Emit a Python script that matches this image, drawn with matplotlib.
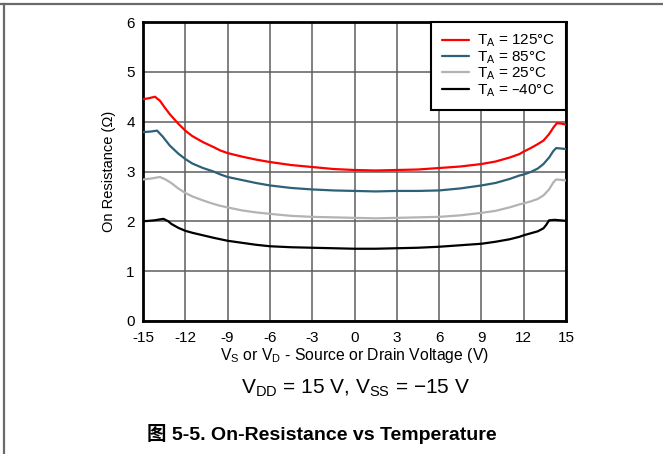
import matplotlib.pyplot as plt
from matplotlib.lines import Line2D

plt.rcParams['font.family'] = ['Liberation Sans', 'Noto Sans CJK SC', 'DejaVu Sans']
plt.rcParams['mathtext.default'] = 'regular'
plt.rcParams['axes.unicode_minus'] = False

# Source/drain voltage (V) and on-resistance (ohm)
v_125 = [-15, -14.6, -14.15, -13.8, -13.5, -13.1, -12.5, -12, -11.5, -10.75, -10, -9.5, -9, -8, -7, -6, -4.5, -3, -1.5,
         0, 1.5, 3, 4.5, 6, 7.5, 9, 10, 11, 11.7, 12, 12.5, 13, 13.4, 13.8, 14.1, 14.35, 14.7, 15]
r_125 = [4.45, 4.47, 4.50, 4.42, 4.30, 4.15, 3.96, 3.82, 3.71, 3.59, 3.49, 3.42, 3.37, 3.30, 3.24, 3.19, 3.13, 3.09, 3.05,
         3.03, 3.02, 3.03, 3.04, 3.07, 3.10, 3.15, 3.20, 3.28, 3.35, 3.40, 3.47, 3.55, 3.62, 3.75, 3.88, 3.97, 3.96, 3.94]

v_85 = [-15, -14.5, -14.0, -13.6, -13.1, -12.5, -12, -11.5, -10.75, -10, -9.5, -9, -8, -7, -6, -4.5, -3, -1.5,
        0, 1.5, 3, 4.5, 6, 7.5, 9, 10, 11, 11.7, 12, 12.5, 13, 13.4, 13.8, 14.1, 14.3, 14.7, 15]
r_85 = [3.79, 3.80, 3.82, 3.70, 3.52, 3.36, 3.25, 3.16, 3.07, 3.00, 2.94, 2.89, 2.83, 2.77, 2.72, 2.67, 2.64, 2.62,
        2.61, 2.60, 2.61, 2.61, 2.62, 2.66, 2.72, 2.77, 2.85, 2.92, 2.94, 2.99, 3.06, 3.15, 3.28, 3.41, 3.47, 3.46, 3.45]

v_25 = [-15, -14.4, -13.8, -13.4, -13.0, -12.5, -12, -11.5, -10.75, -10, -9.5, -9, -8, -7, -6, -4.5, -3, -1.5,
        0, 1.5, 3, 4.5, 6, 7.5, 9, 10, 11, 11.7, 12, 12.5, 13, 13.4, 13.8, 14.1, 14.3, 14.7, 15]
r_25 = [2.84, 2.86, 2.89, 2.84, 2.77, 2.66, 2.57, 2.50, 2.42, 2.35, 2.31, 2.28, 2.22, 2.18, 2.15, 2.11, 2.09, 2.08,
        2.07, 2.06, 2.07, 2.08, 2.09, 2.12, 2.17, 2.21, 2.28, 2.34, 2.36, 2.40, 2.45, 2.52, 2.64, 2.78, 2.84, 2.83, 2.82]

v_m40 = [-15, -14.2, -13.55, -13.2, -13.0, -12.5, -12, -11.5, -10.75, -10, -9, -8, -7, -6, -4.5, -3, -1.5,
         0, 1.5, 3, 4.5, 6, 7.5, 9, 10, 11, 11.7, 12, 12.5, 13, 13.4, 13.6, 13.8, 14.2, 15]
r_m40 = [2.00, 2.02, 2.05, 2.00, 1.95, 1.87, 1.81, 1.77, 1.72, 1.67, 1.61, 1.57, 1.53, 1.50, 1.48, 1.47, 1.46,
         1.45, 1.45, 1.46, 1.47, 1.49, 1.52, 1.55, 1.59, 1.64, 1.69, 1.72, 1.76, 1.80, 1.86, 1.93, 2.02, 2.03, 2.01]

series = [
    (v_125, r_125, '#ff0000', 'T$_{A}$ = 125°C'),
    (v_85, r_85, '#2e6079', 'T$_{A}$ = 85°C'),
    (v_25, r_25, '#b3b3b3', 'T$_{A}$ = 25°C'),
    (v_m40, r_m40, '#000000', 'T$_{A}$ = –40°C'),
]

x_ticks = [-15, -12, -9, -6, -3, 0, 3, 6, 9, 12, 15]
y_ticks = [0, 1, 2, 3, 4, 5, 6]

fig = plt.figure(figsize=(6.63, 4.54), dpi=100)
ax = fig.add_axes([143 / 663, 1 - 321 / 454, 423 / 663, 299 / 454])

for v, r, col, lab in series:
    ax.plot(v, r, color=col, lw=1.6, label=lab, solid_capstyle='round', zorder=3)

ax.set_xlim(-15, 15)
ax.set_ylim(0, 6)
ax.set_xticks(x_ticks)
ax.set_yticks(y_ticks)
ax.tick_params(length=0, labelsize=11)
ax.tick_params(axis='x', pad=7)
ax.tick_params(axis='y', pad=6)
ax.grid(True, color='#5e5e5e', lw=1.1)
for s in ax.spines.values():
    s.set_linewidth(2)

ax.set_xlabel('V$_{S}$ or V$_{D}$ - Source or Drain Voltage (V)', fontsize=11.3, labelpad=1)
ax.set_ylabel('On Resistance (Ω)', fontsize=10.5, labelpad=7)

leg = ax.legend(loc='upper right', fontsize=11, handlelength=1.75, handletextpad=0.5,
                borderaxespad=0, labelspacing=0.0, framealpha=1, fancybox=False,
                borderpad=0.72)
leg.get_frame().set_edgecolor('black')
leg.get_frame().set_linewidth(1.5)
leg.set_zorder(5)

fig.text(356 / 663, 1 - 388 / 454, 'V$_{DD}$ = 15 V, V$_{SS}$ = −15 V', fontsize=15,
         ha='center', va='center')
fig.text(322 / 663, 1 - 434 / 454, '图 5-5. On-Resistance vs Temperature',
         fontsize=14, fontweight='bold', ha='center', va='center')

# page frame lines (top and left)
fig.add_artist(Line2D([0, 1], [1 - 4 / 454, 1 - 4 / 454], color='#6a6a6a', lw=1.6))
fig.add_artist(Line2D([4 / 663, 4 / 663], [0, 1 - 4 / 454], color='#6a6a6a', lw=1.6))

fig.savefig('out.png', dpi=100)
